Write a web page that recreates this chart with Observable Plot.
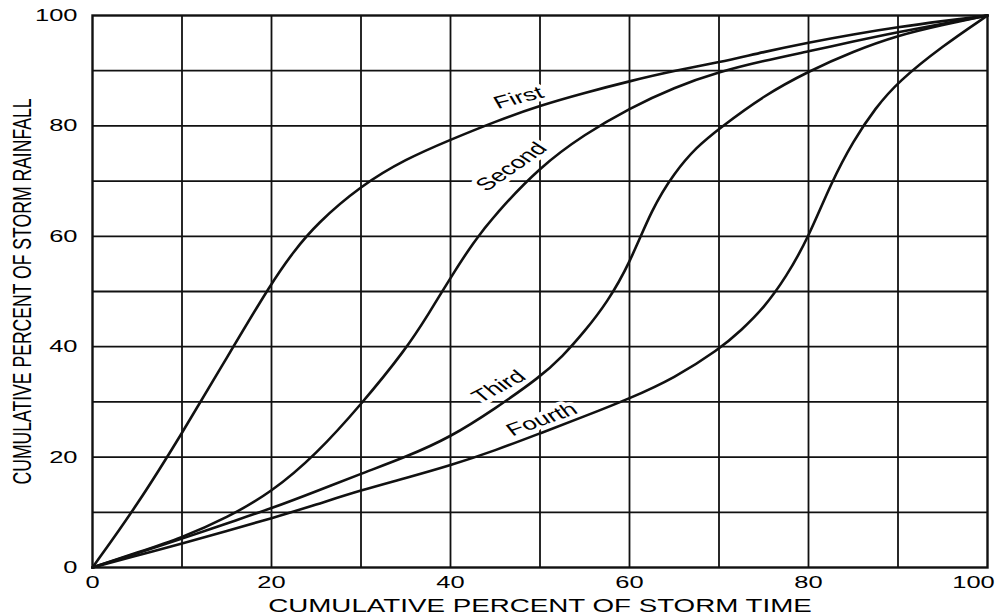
<!DOCTYPE html>
<html>
<head>
<meta charset="utf-8">
<script src="https://cdn.jsdelivr.net/npm/d3@7"></script>
<script src="https://cdn.jsdelivr.net/npm/@observablehq/plot@0.6"></script>
<style>
  html, body { margin: 0; padding: 0; background: #fff; }
</style>
</head>
<body>
<div id="chart"></div>
<script>
// Cumulative percent of storm time (x) and storm rainfall (y), read for each quartile curve
const firstTime  = [0, 5, 10, 15, 20, 22.5, 25, 30, 35, 40, 45, 50, 55, 60, 65, 70, 75, 80, 85, 90, 95, 100];
const first      = [0, 11.3, 24.3, 38, 51.6, 57.3, 62.2, 69.2, 74, 77.5, 80.8, 83.7, 86, 88.1, 90, 91.5, 93.4, 95.1, 96.6, 97.9, 99, 100];

const secondTime = [0, 5, 10, 15, 20, 25, 30, 35, 37.5, 40, 42.5, 45, 50, 55, 60, 65, 70, 75, 80, 85, 90, 95, 100];
const second     = [0, 2.7, 5.4, 9, 13.6, 20.5, 29.5, 39.5, 45.8, 52.5, 58.8, 64, 72.6, 78.5, 83.2, 87, 89.8, 91.8, 93.5, 95.3, 97, 98.5, 100];

const thirdTime  = [0, 5, 10, 15, 20, 25, 30, 35, 40, 45, 50, 52.5, 55, 57.5, 60, 62.5, 65, 67.5, 70, 75, 80, 85, 90, 95, 100];
const third      = [0, 2.6, 5.2, 8, 10.7, 13.8, 17, 20, 23.6, 28.8, 34.5, 38.2, 42.8, 48, 55, 65, 71.5, 76.2, 79.5, 85.5, 89.9, 93.5, 96.4, 98.3, 100];

const fourthTime = [0, 5, 10, 15, 20, 25, 30, 35, 40, 45, 50, 55, 60, 65, 70, 72.5, 75, 77.5, 80, 82.5, 85, 87.5, 90, 95, 100];
const fourth     = [0, 2.2, 4.3, 6.6, 8.9, 11.4, 14, 16.2, 18.5, 21.2, 24.3, 27.4, 30.6, 34.3, 39.5, 43, 47, 52.6, 59.8, 69.6, 77.3, 83.3, 88, 94.5, 100];

const seriesNames  = ["First", "Second", "Third", "Fourth"];
const seriesTimes  = [firstTime, secondTime, thirdTime, fourthTime];
const seriesValues = [first, second, third, fourth];

// Curve label anchors (data units) and text angles
const labelTime  = [47.6, 46.8, 45.4, 50.2];
const labelRain  = [85.1, 72.6, 32.8, 26.8];
const labelAngle = [-21, -46, -38, -28];

const xTicks = [0, 20, 40, 60, 80];
const xLastTick = [100];
const yTicks = [0, 20, 40, 60, 80, 100];
const gridTicks = [10, 20, 30, 40, 50, 60, 70, 80, 90];

const xTitle = "CUMULATIVE PERCENT OF STORM TIME";
const yTitle = "CUMULATIVE PERCENT OF STORM RAINFALL";

const rows = seriesNames.flatMap((s, k) => seriesTimes[k].map((t, i) => ({s, t, p: seriesValues[k][i]})));
const labels = seriesNames.map((s, k) => ({s, t: labelTime[k], p: labelRain[k], a: labelAngle[k]}));

const ink = "#111";

const plot = Plot.plot({
  width: 998,
  height: 616,
  marginLeft: 92,
  marginRight: 11,
  marginTop: 15,
  marginBottom: 49,
  style: {fontFamily: "'Liberation Sans', Arial, Helvetica, sans-serif", background: "#fff", color: "#000"},
  x: {domain: [0, 100], label: null},
  y: {domain: [0, 100], label: null},
  marks: [
    Plot.gridX(gridTicks, {stroke: ink, strokeOpacity: 1, strokeWidth: 1.8}),
    Plot.gridY(gridTicks, {stroke: ink, strokeOpacity: 1, strokeWidth: 1.8}),
    Plot.frame({stroke: ink, strokeWidth: 2.4}),
    Plot.text(labels, {x: "t", y: "p", text: "s", rotate: "a", fontSize: 17.5, fill: "#000",
      stroke: "#fff", strokeWidth: 7, paintOrder: "stroke"}),
    Plot.line(rows, {x: "t", y: "p", z: "s", curve: "basis", stroke: ink, strokeWidth: 2.6}),
    Plot.axisX(xTicks, {tickSize: 0, tickPadding: 8, fontSize: 17, label: null}),
    Plot.axisX(xLastTick, {tickSize: 0, tickPadding: 8, fontSize: 17, dx: -14, label: null}),
    Plot.axisY(yTicks, {tickSize: 0, tickPadding: 15, fontSize: 17, label: null}),
    Plot.text([xTitle], {frameAnchor: "bottom", dy: 39, lineAnchor: "middle", textAnchor: "middle", fontSize: 18.5, fill: "#000"}),
    Plot.text([yTitle], {frameAnchor: "left", dx: -70, rotate: -90, lineAnchor: "middle", textAnchor: "middle", fontSize: 17.6, fill: "#000"})
  ]
});

// The reference artwork is horizontally stretched: widen every text glyph about its anchor.
plot.querySelectorAll("text").forEach((el) => {
  const tr = el.getAttribute("transform");
  if (tr && /^translate\([^)]*\)/.test(tr)) {
    el.setAttribute("transform", tr.replace(/^(translate\([^)]*\))/, "$1 scale(1.5,1)"));
  } else {
    const x = +(el.getAttribute("x") || 0);
    el.setAttribute("transform", `translate(${x},0) scale(1.5,1) translate(${-x},0)` + (tr ? " " + tr : ""));
  }
});

document.getElementById("chart").appendChild(plot);
</script>
</body>
</html>
